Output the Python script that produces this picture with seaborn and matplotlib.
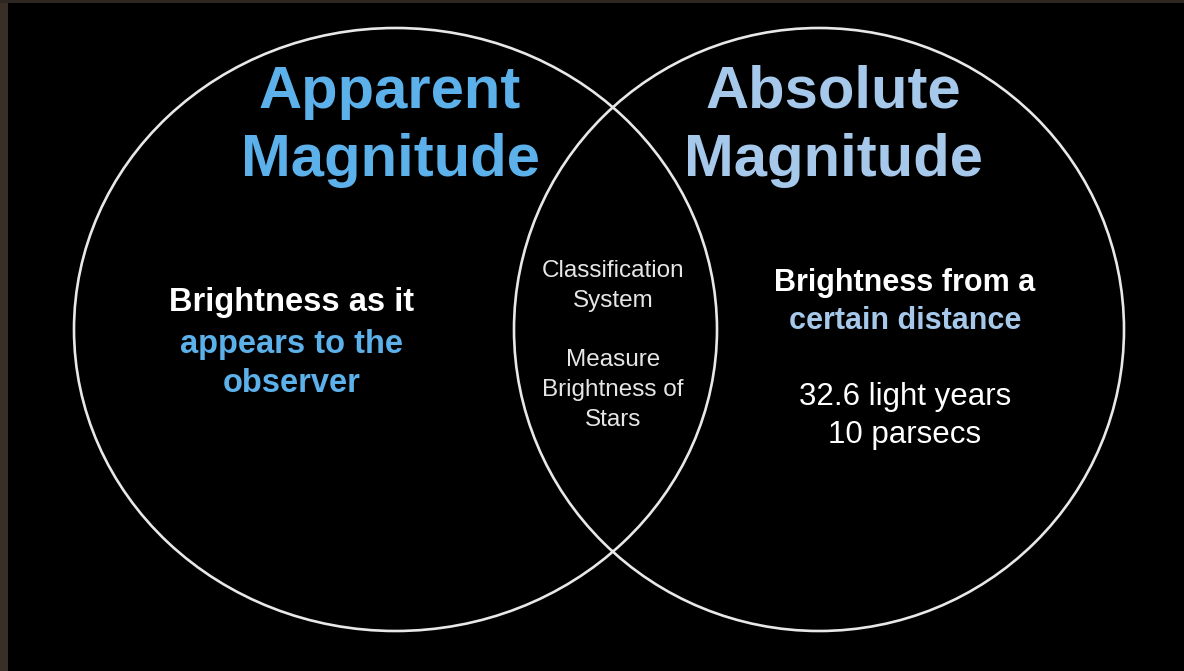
import matplotlib
matplotlib.use("Agg")
import matplotlib.pyplot as plt
from matplotlib.patches import Ellipse, Rectangle
import seaborn as sns

# Venn content
set_titles = [["Apparent", "Magnitude"], ["Absolute", "Magnitude"]]
left_lines = ["Brightness as it", "appears to the", "observer"]
right_lines = ["Brightness from a", "certain distance"]
right_facts = ["32.6 light years", "10 parsecs"]
overlap_lines = ["Classification", "System", "", "Measure", "Brightness of", "Stars"]

sns.set_theme(style="dark")
plt.rcParams['font.family'] = ['Liberation Sans', 'DejaVu Sans']

fig = plt.figure(figsize=(11.84, 6.71), dpi=100, facecolor="black")
ax = fig.add_axes([0, 0, 1, 1])
ax.set_facecolor("black")
ax.set_xlim(0, 1184)
ax.set_ylim(671, 0)
ax.axis("off")

# thin textured border strip on the left/top
ax.add_patch(Rectangle((0, 0), 8, 671, color="#3a2f27", lw=0))
ax.add_patch(Rectangle((0, 0), 1184, 2.5, color="#2e2620", lw=0))

# circles
ax.add_patch(Ellipse((395.5, 329.5), 643, 603, fill=False, ec="#e8e8e8", lw=1.9))
ax.add_patch(Ellipse((819, 329.5), 610, 603, fill=False, ec="#e8e8e8", lw=1.9))

blue = "#5cb1ea"
pale = "#a6c8ea"

for title, x, c in zip(set_titles, [390, 833], [blue, pale]):
    for txt, y in zip(title, [92, 160]):
        ax.text(x, y, txt, color=c, fontsize=43, fontweight="bold",
                ha="center", va="center")

left_y = [303, 345, 383]
left_c = ["white", blue, blue]
for txt, y, c in zip(left_lines, left_y, left_c):
    ax.text(292, y, txt, color=c, fontsize=23.5, fontweight="bold", ha="center", va="center")

right_y = [283, 321]
right_c = ["white", pale]
for txt, y, c in zip(right_lines, right_y, right_c):
    ax.text(905, y, txt, color=c, fontsize=22, fontweight="bold", ha="center", va="center")

for txt, y in zip(right_facts, [397, 435]):
    ax.text(905, y, txt, color="white", fontsize=22.5, ha="center", va="center")

over_y = [271, 301, 330, 360, 390, 420]
for txt, y in zip(overlap_lines, over_y):
    if txt:
        ax.text(613, y, txt, color="#e6e6e6", fontsize=17.5, ha="center", va="center")

fig.savefig("out.png", dpi=100, facecolor="black")
